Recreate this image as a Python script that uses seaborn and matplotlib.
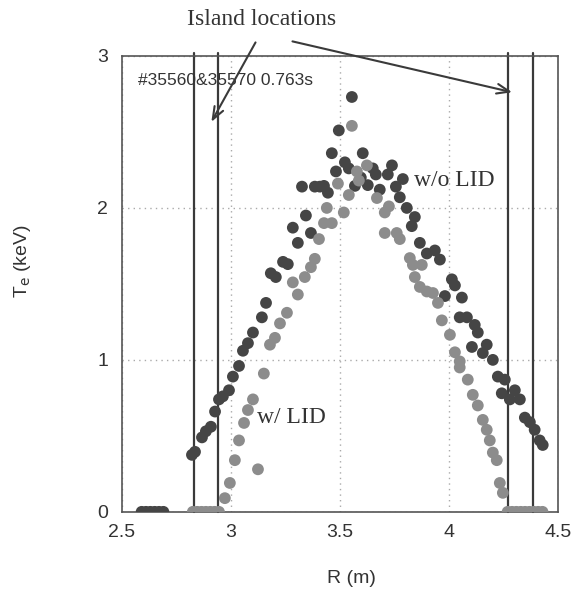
import numpy as np
import pandas as pd
import seaborn as sns
import matplotlib.pyplot as plt

# w/o LID (dark points)
r_wo = [2.59, 2.61, 2.63, 2.65, 2.67, 2.69,
        2.821, 2.835, 2.867, 2.885, 2.908, 2.927, 2.945, 2.963, 2.991, 3.009,
        3.037, 3.055, 3.078, 3.101, 3.142, 3.161, 3.183, 3.206, 3.239, 3.261,
        3.307, 3.284, 3.367, 3.344, 3.326, 3.385, 3.408, 3.427, 3.445, 3.482,
        3.523, 3.555, 3.495, 3.463, 3.605, 3.541, 3.651, 3.665, 3.739, 3.720,
        3.596, 3.628, 3.569, 3.789, 3.757, 3.683, 3.775, 3.807, 3.844, 3.830,
        3.867, 3.899, 3.936, 3.959, 4.014, 4.028, 3.982, 4.060, 4.050, 4.083,
        4.119, 4.133, 4.174, 4.106, 4.156, 4.202, 4.225, 4.257, 4.243, 4.303,
        4.280, 4.326, 4.349, 4.372, 4.394, 4.417, 4.431]
te_wo = [0, 0, 0, 0, 0, 0,
         0.375, 0.395, 0.49, 0.53, 0.56, 0.66, 0.74, 0.76, 0.80, 0.89,
         0.96, 1.06, 1.11, 1.18, 1.28, 1.375, 1.57, 1.545, 1.645, 1.63,
         1.77, 1.87, 1.835, 1.95, 2.14, 2.14, 2.14, 2.145, 2.10, 2.24,
         2.30, 2.73, 2.51, 2.36, 2.36, 2.26, 2.26, 2.22, 2.28, 2.22,
         2.20, 2.15, 2.145, 2.19, 2.14, 2.12, 2.07, 2.00, 1.94, 1.88,
         1.77, 1.70, 1.72, 1.66, 1.53, 1.49, 1.42, 1.41, 1.28, 1.28,
         1.23, 1.18, 1.10, 1.085, 1.045, 1.00, 0.89, 0.87, 0.78, 0.80,
         0.74, 0.74, 0.62, 0.59, 0.54, 0.47, 0.44]

# w/ LID (gray points)
r_w = [2.825, 2.845, 2.865, 2.885, 2.905, 2.925, 2.945,
       2.972, 2.995, 3.018, 3.037, 3.060, 3.078, 3.101, 3.124, 3.151, 3.179,
       3.202, 3.225, 3.257, 3.284, 3.307, 3.339, 3.367, 3.385, 3.404, 3.427,
       3.463, 3.440, 3.518, 3.491, 3.541, 3.555, 3.578, 3.624, 3.587, 3.670,
       3.725, 3.706, 3.761, 3.775, 3.821, 3.876, 3.844, 3.706, 3.835, 3.867,
       3.899, 3.927, 3.950, 3.968, 4.005, 4.028, 4.050, 4.050, 4.087, 4.110,
       4.133, 4.156, 4.174, 4.188, 4.202, 4.220, 4.234, 4.248,
       4.27, 4.29, 4.31, 4.33, 4.35, 4.37, 4.39, 4.41, 4.43]
te_w = [0, 0, 0, 0, 0, 0, 0,
        0.09, 0.19, 0.34, 0.47, 0.585, 0.67, 0.74, 0.28, 0.91, 1.10,
        1.145, 1.24, 1.31, 1.51, 1.43, 1.545, 1.61, 1.665, 1.795, 1.90,
        1.90, 2.00, 1.97, 2.16, 2.085, 2.54, 2.24, 2.28, 2.18, 2.065,
        2.01, 1.835, 1.835, 1.795, 1.67, 1.625, 1.545, 1.97, 1.625, 1.48,
        1.45, 1.44, 1.375, 1.26, 1.165, 1.05, 0.99, 0.95, 0.87, 0.77,
        0.70, 0.605, 0.54, 0.47, 0.39, 0.34, 0.19, 0.125,
        0, 0, 0, 0, 0, 0, 0, 0, 0]

island_r = [2.83, 2.94, 4.27, 4.385]

df = pd.DataFrame({
    'R': r_wo + r_w,
    'Te': te_wo + te_w,
    'case': ['w/o LID'] * len(r_wo) + ['w/ LID'] * len(r_w),
})

sns.set_style('white')
plt.rcParams['font.family'] = ['Liberation Sans', 'DejaVu Sans']

fig = plt.figure(figsize=(5.81, 5.89), dpi=100)
ax = fig.add_axes([0.21, 0.131, 0.75, 0.774])

for x in island_r:
    ax.plot([x, x], [0, 3.02], color='#3a3a3a', lw=1.6, clip_on=False, zorder=1)

sns.scatterplot(data=df, x='R', y='Te', hue='case',
                palette={'w/o LID': '#454545', 'w/ LID': '#8c8c8c'},
                s=72, edgecolor=None, linewidth=0, legend=False, ax=ax, zorder=3)

ax.set_xlim(2.5, 4.5)
ax.set_ylim(0, 3)
ax.set_xticks([2.5, 3, 3.5, 4, 4.5])
ax.set_xticklabels(['2.5', '3', '3.5', '4', '4.5'])
ax.set_yticks([0, 1, 2, 3])
ax.tick_params(length=0, labelsize=14, colors='#333333')
ax.tick_params(axis='x', pad=9)
ax.tick_params(axis='y', pad=10)
ax.grid(True, color='#aaaaaa', linestyle=(0, (1, 3)), lw=1)
for sp in ax.spines.values():
    sp.set_color('#555555')
    sp.set_linewidth(1.2)

ax.set_xlabel('R (m)', fontsize=14, color='#333333')
ax.set_ylabel(r'T$_{\rm e}$ (keV)', fontsize=14, color='#333333')
ax.xaxis.set_label_coords(0.527, -0.128)
ax.yaxis.set_label_coords(-0.205, 0.55)

ax.text(2.573, 2.84, '#35560&35570 0.763s', fontsize=12.5, color='#333333', va='center')
serif = ['Liberation Serif', 'DejaVu Serif']
ax.text(3.84, 2.18, 'w/o LID', family=serif, fontsize=17, color='#333333', va='center')
ax.text(3.12, 0.62, 'w/ LID', family=serif, fontsize=17, color='#333333', va='center')
ax.text(3.142, 3.237, 'Island locations', family=serif, fontsize=17, color='#333333',
        ha='center', va='center', clip_on=False)

arrow = dict(arrowstyle='->,head_length=0.9,head_width=0.35', color='#3a3a3a', lw=1.5)
ax.annotate('', xy=(2.904, 2.55), xytext=(3.119, 3.105), arrowprops=arrow, annotation_clip=False)
ax.annotate('', xy=(4.303, 2.757), xytext=(3.27, 3.10), arrowprops=arrow, annotation_clip=False)

fig.savefig('out.png', dpi=100)
